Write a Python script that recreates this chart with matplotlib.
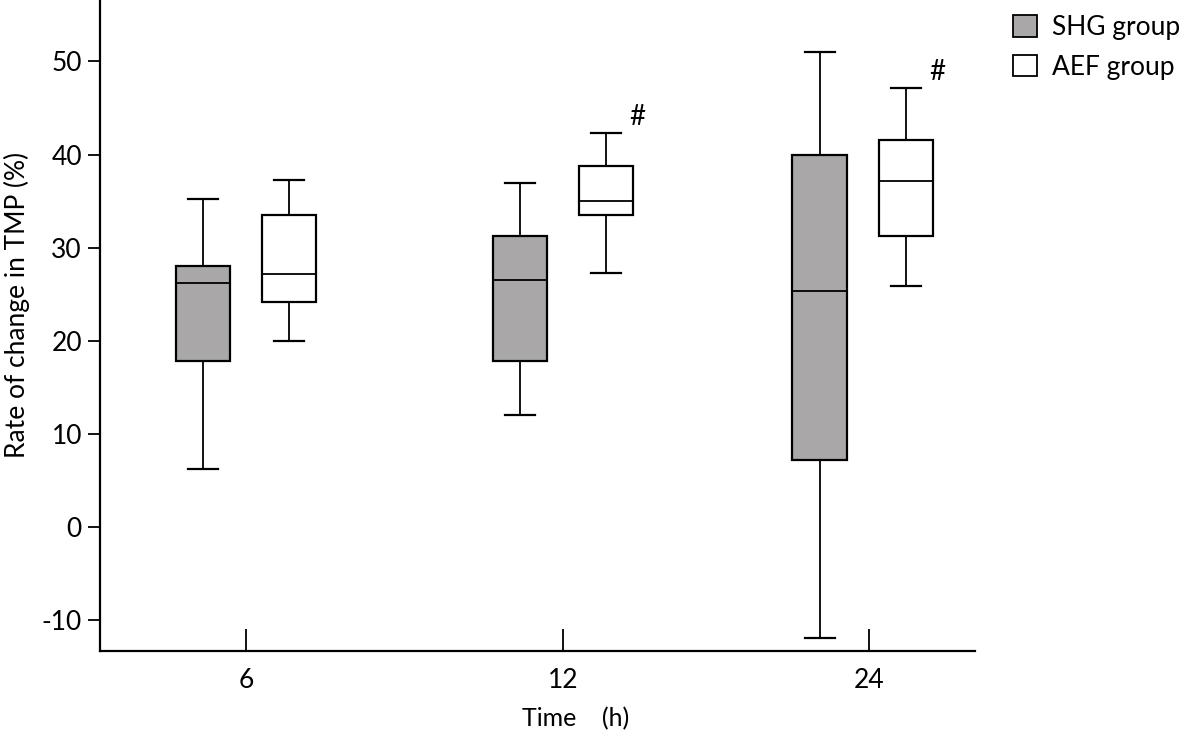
import numpy as np
import matplotlib.pyplot as plt
from matplotlib.patches import Patch

plt.rcParams['font.family'] = ['Lato', 'DejaVu Sans']
plt.rcParams['axes.unicode_minus'] = False

times = ['6', '12', '24']
# box stats: whislo, q1, med, q3, whishi
shg_low = [6.3, 12.1, -11.9]
shg_q1 = [17.8, 17.8, 7.2]
shg_med = [26.2, 26.5, 25.4]
shg_q3 = [28.0, 31.3, 40.0]
shg_high = [35.2, 37.0, 51.0]

aef_low = [20.0, 27.3, 25.9]
aef_q1 = [24.2, 33.5, 31.3]
aef_med = [27.2, 35.0, 37.2]
aef_q3 = [33.5, 38.8, 41.6]
aef_high = [37.3, 42.3, 47.2]

sig = [False, True, True]


def stats(lo, q1, med, q3, hi):
    return [dict(whislo=a, q1=b, med=c, q3=d, whishi=e, fliers=[])
            for a, b, c, d, e in zip(lo, q1, med, q3, hi)]


fig = plt.figure(figsize=(11.81, 7.30), dpi=100)
ax = fig.add_axes([0.0847, 0.108, 0.741, 0.892])

pos = np.array([0, 1.016, 1.997])
grp = np.array([0, 0, -0.02])  # the 24 h pair sits a bit left of its tick
off = 0.138
w = 0.175
common = dict(widths=w, patch_artist=True, showfliers=False,
              medianprops=dict(color='black', lw=1.3),
              whiskerprops=dict(color='black', lw=1.3),
              capprops=dict(color='black', lw=1.6),
              boxprops=dict(edgecolor='black', lw=1.6))
b1 = ax.bxp(stats(shg_low, shg_q1, shg_med, shg_q3, shg_high), positions=pos + grp - off,
            capwidths=w * 0.55, **common)
b2 = ax.bxp(stats(aef_low, aef_q1, aef_med, aef_q3, aef_high), positions=pos + grp + off,
            capwidths=w * 0.55, **common)
for p in b1['boxes']:
    p.set_facecolor('#a9a7a7')
for p in b2['boxes']:
    p.set_facecolor('white')

for i, s in enumerate(sig):
    if s:
        ax.text(pos[i] + grp[i] + off + 0.1, aef_high[i] + 0.3, '#', fontsize=20,
                ha='center', va='bottom')

ax.set_xlim(-0.468, 2.337)
ax.set_ylim(-13.3, 56.6)
ax.set_xticks(pos)
ax.set_xticklabels(times)
ax.set_yticks(np.arange(-10, 51, 10))
ax.tick_params(axis='x', direction='in', length=16, width=1.3, labelsize=19, pad=12)
ax.tick_params(axis='y', direction='out', length=9, width=1.3, labelsize=19, pad=4)
for s in ['top', 'right']:
    ax.spines[s].set_visible(False)
for s in ['left', 'bottom']:
    ax.spines[s].set_linewidth(1.6)

ax.set_xlabel('Time    (h)', fontsize=18)
ax.xaxis.set_label_coords(0.543, -0.085)
ax.set_ylabel('Rate of change in TMP (%)', fontsize=19)
ax.yaxis.set_label_coords(-0.08, 0.532)

handles = [Patch(facecolor='#a9a7a7', edgecolor='black', lw=1.3, label='SHG group'),
           Patch(facecolor='white', edgecolor='black', lw=1.3, label='AEF group')]
fig.legend(handles=handles, loc='upper left', bbox_to_anchor=(0.838, 1.012),
           frameon=False, fontsize=19, handlelength=0.9, handleheight=0.9,
           handletextpad=0.55, labelspacing=0.55)

fig.savefig('out.png', dpi=100)
